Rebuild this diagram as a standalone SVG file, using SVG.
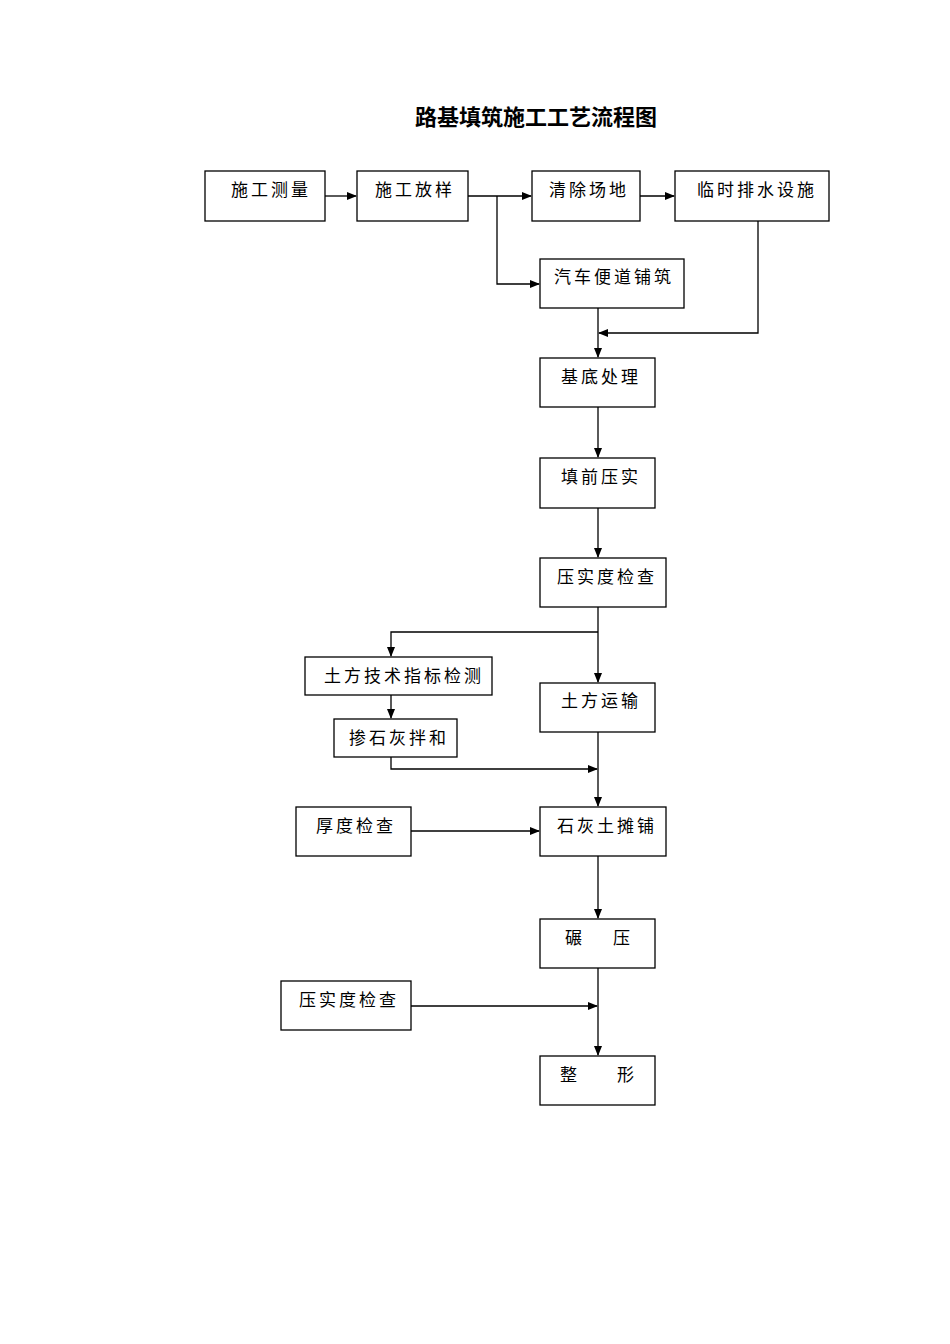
<svg xmlns="http://www.w3.org/2000/svg" width="950" height="1344" viewBox="0 0 950 1344">
<style>
rect{fill:#fff;stroke:#000;stroke-width:1.3}
text{font-family:"Noto Sans CJK SC",sans-serif;font-size:17px;letter-spacing:3px;fill:#000}
.c path{fill:none;stroke:#000;stroke-width:1.3}
</style>
<defs><marker id="a" markerWidth="10" markerHeight="8" refX="9" refY="4" orient="auto" markerUnits="userSpaceOnUse"><path d="M0,0L10,4L0,8z" fill="#000"/></marker></defs>
<rect width="950" height="1344" style="stroke:none"/>
<text x="536" y="125" text-anchor="middle" style="font-size:22px;font-weight:bold;letter-spacing:0">路基填筑施工工艺流程图</text>
<g class="c" marker-end="url(#a)">
<path d="M325,196H356"/><path d="M468,196H531"/><path d="M497,196V284H539"/><path d="M640,196H674"/>
<path d="M758,221V333H599"/><path d="M598,308V357"/><path d="M598,407V457"/><path d="M598,508V557"/>
<path d="M598,607V682"/><path d="M598,632H391V656"/><path d="M391,695V718"/><path d="M391,757V769H597"/>
<path d="M598,732V806"/><path d="M411,831H539"/><path d="M598,856V918"/><path d="M598,968V1055"/><path d="M411,1006H597"/>
</g>
<g id="n1"><rect x="205" y="171" width="120" height="50"/><text x="231" y="196">施工测量</text></g>
<g id="n2"><rect x="357" y="171" width="111" height="50"/><text x="375" y="196">施工放样</text></g>
<g id="n3"><rect x="532" y="171" width="108" height="50"/><text x="549" y="196">清除场地</text></g>
<g id="n4"><rect x="675" y="171" width="154" height="50"/><text x="697" y="196">临时排水设施</text></g>
<g id="n5"><rect x="540" y="259" width="144" height="49"/><text x="554" y="283">汽车便道铺筑</text></g>
<g id="n6"><rect x="540" y="358" width="115" height="49"/><text x="561" y="383">基底处理</text></g>
<g id="n7"><rect x="540" y="458" width="115" height="50"/><text x="561" y="483">填前压实</text></g>
<g id="n8"><rect x="540" y="558" width="126" height="49"/><text x="557" y="583">压实度检查</text></g>
<g id="n9"><rect x="305" y="657" width="187" height="38"/><text x="324" y="682">土方技术指标检测</text></g>
<g id="n10"><rect x="540" y="683" width="115" height="49"/><text x="561" y="707">土方运输</text></g>
<g id="n11"><rect x="334" y="719" width="123" height="38"/><text x="349" y="744">掺石灰拌和</text></g>
<g id="n12"><rect x="296" y="807" width="115" height="49"/><text x="316" y="832">厚度检查</text></g>
<g id="n13"><rect x="540" y="807" width="126" height="49"/><text x="557" y="832">石灰土摊铺</text></g>
<g id="n14"><rect x="540" y="919" width="115" height="49"/><text x="565" y="944">碾</text><text x="613" y="944">压</text></g>
<g id="n15"><rect x="281" y="981" width="130" height="49"/><text x="299" y="1006">压实度检查</text></g>
<g id="n16"><rect x="540" y="1056" width="115" height="49"/><text x="560" y="1081">整</text><text x="617" y="1081">形</text></g>
</svg>
